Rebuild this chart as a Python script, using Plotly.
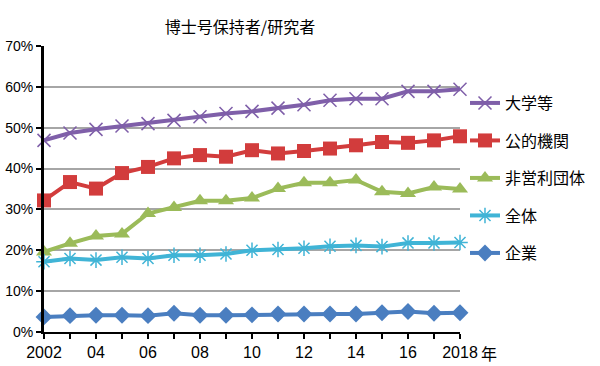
import plotly.graph_objects as go

years = list(range(2002, 2019))
univ = [46.9, 48.7, 49.6, 50.4, 51.0, 51.8, 52.7, 53.5, 54.0, 54.8, 55.6, 56.7, 57.1, 57.1, 58.9, 58.9, 59.4]
public = [32.2, 36.7, 35.1, 38.9, 40.4, 42.5, 43.3, 42.9, 44.5, 43.7, 44.3, 44.9, 45.7, 46.5, 46.3, 46.9, 47.9]
nonprofit = [19.6, 21.7, 23.5, 24.0, 29.0, 30.5, 32.1, 32.1, 32.8, 35.1, 36.5, 36.5, 37.2, 34.3, 33.9, 35.5, 35.0]
total = [17.2, 18.0, 17.6, 18.3, 18.0, 18.8, 18.8, 19.1, 20.0, 20.2, 20.5, 21.0, 21.2, 20.9, 21.8, 21.8, 21.9]
business = [3.7, 4.0, 4.1, 4.1, 4.0, 4.6, 4.1, 4.1, 4.2, 4.4, 4.4, 4.4, 4.4, 4.7, 5.0, 4.6, 4.7]

x_tickvals = [2002, 2004, 2006, 2008, 2010, 2012, 2014, 2016, 2018]
x_ticktext = ["2002", "04", "06", "08", "10", "12", "14", "16", "2018"]
y_tickvals = [0, 10, 20, 30, 40, 50, 60, 70]
y_ticktext = ["0%", "10%", "20%", "30%", "40%", "50%", "60%", "70%"]

series = [
    ("大学等", univ, "#7F5FA9", dict(symbol="x-thin-open", size=13, line=dict(width=1.5, color="#7F5FA9"))),
    ("公的機関", public, "#D23C3C", dict(symbol="square", size=14)),
    ("非営利団体", nonprofit, "#9BBB59", dict(symbol="triangle-up", size=14)),
    ("全体", total, "#40B4D6", dict(symbol="asterisk-open", size=13, line=dict(width=1.5, color="#40B4D6"))),
    ("企業", business, "#4A7EC0", dict(symbol="diamond", size=13)),
]

fig = go.Figure()
for i, (name, vals, color, mk) in enumerate(series):
    mk = dict(mk)
    mk.setdefault("color", color)
    fig.add_trace(go.Scatter(
        x=years, y=vals, name=name, mode="lines+markers",
        line=dict(color=color, width=4),
        marker=mk, cliponaxis=False, legendgroup=name,
    ))

fig.update_layout(
    width=600, height=366,
    margin=dict(l=44, r=140, t=46, b=34, autoexpand=False),
    paper_bgcolor="white", plot_bgcolor="white",
    font=dict(family="Liberation Sans, Arial, sans-serif", color="black"),
    title=dict(text="博士号保持者/研究者", x=0.4, xanchor="center", y=0.926, yanchor="middle",
               font=dict(family="Noto Sans CJK JP", size=16, color="black")),
    showlegend=True,
    legend=dict(x=1.012, xanchor="left", y=0.86, yanchor="top",
                font=dict(family="Noto Sans CJK JP", size=16, color="black"),
                tracegroupgap=13.7, itemwidth=30, bgcolor="rgba(0,0,0,0)"),
    xaxis=dict(range=[2002, 2018], tickvals=x_tickvals, ticktext=x_ticktext, automargin=False,
               showgrid=False, zeroline=False, showline=True, linecolor="black", linewidth=2,
               ticks="outside", ticklen=5, tickwidth=2, tickcolor="black",
               tickfont=dict(size=16), minor=dict(dtick=1, ticks="outside", ticklen=5, tickwidth=2, tickcolor="black")),
    yaxis=dict(range=[0, 70], tickvals=y_tickvals, ticktext=y_ticktext, automargin=False,
               showgrid=True, gridcolor="#A6A6A6", gridwidth=1.5, zeroline=False,
               showline=True, linecolor="black", linewidth=3,
               ticks="outside", ticklen=5, tickwidth=2, tickcolor="black",
               tickfont=dict(size=14)),
    annotations=[dict(text="年", xref="paper", yref="paper", x=1.07, y=-0.075,
                      xanchor="center", yanchor="middle", showarrow=False,
                      font=dict(family="Noto Sans CJK JP", size=16, color="black"))],
)

fig.write_html("out.html", config={"displayModeBar": False},
               post_script="document.body.style.margin='0';")
